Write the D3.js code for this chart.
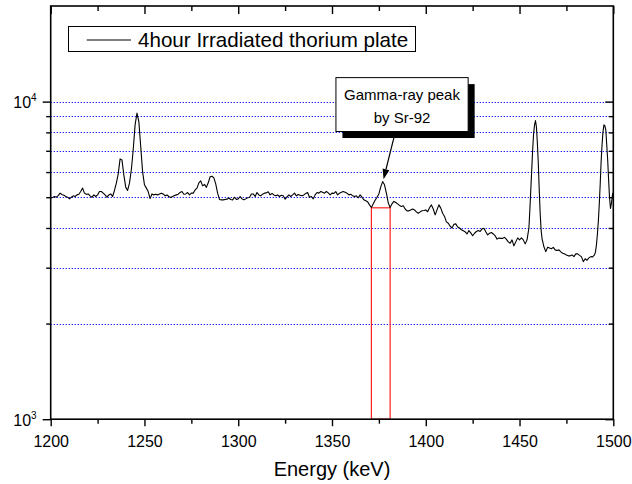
<!DOCTYPE html>
<html>
<head>
<meta charset="utf-8">
<script src="https://cdn.jsdelivr.net/npm/d3@7/dist/d3.min.js"></script>
<style>
    body { margin: 0; background: #fff; }
    svg { display: block; font-family: "Liberation Sans", Arial, sans-serif; }
</style>
</head>
<body>
<svg id="chart" width="632" height="484"></svg>
<script>
(function() {
    'use strict';

    /******************************************************************
        data
     ******************************************************************/
    var xMajor = [1200, 1250, 1300, 1350, 1400, 1450, 1500];
    var xMinor = [1225, 1275, 1325, 1375, 1425, 1475];
    var yMajor = [1000, 10000];
    var yMinor = [2000, 3000, 4000, 5000, 6000, 7000, 8000, 9000];
    var gridLevels = [2000, 3000, 4000, 5000, 6000, 7000, 8000, 9000, 10000];

    var legendLabel = '4hour Irradiated thorium plate';
    var axisTitle = 'Energy (keV)';
    var noteLines = ['Gamma-ray peak', 'by Sr-92'];
    var noteBox = [1352.1, 1422.6, 11900, 8050];   // energy from/to, counts top/bottom
    var noteTip = [1377.5, 5700];                  // energy, counts
    var peakWindow = [1371, 1381, 4630];           // energy from/to, counts

    // [energy keV, counts]
    var spectrum = [
        [1200,4970],[1201,4990],[1202,5025],[1203,5000],[1204,5060],[1205,5150],[1206,5100],[1207,5075],
        [1208,5025],[1209,5000],[1210,4940],[1211,5000],[1212,5050],[1213,5025],[1214,5085],[1215,5110],
        [1216,5210],[1217,5340],[1218,5150],[1219,5110],[1220,5120],[1221,5050],[1222,5000],[1223,5085],
        [1224,5025],[1225,5085],[1226,5210],[1227,5210],[1228,5150],[1229,5085],[1230,5000],[1231,5085],
        [1232,5120],[1233,5025],[1234,5250],[1235,5535],[1236,5920],[1237,6600],[1238,6550],[1239,5880],
        [1240,5380],[1241,5250],[1242,5535],[1243,6100],[1244,7050],[1245,8450],[1246,9200],[1247,8650],
        [1248,7220],[1249,6020],[1250,5470],[1251,5340],[1252,5210],[1253,4950],[1254,5120],[1255,5085],
        [1256,5110],[1257,5085],[1258,5120],[1259,5150],[1260,5120],[1261,5050],[1262,5085],[1263,5025],
        [1264,4990],[1265,5025],[1266,5060],[1267,5085],[1268,5110],[1269,5175],[1270,5210],[1271,5110],
        [1272,5120],[1273,5175],[1274,5085],[1275,5150],[1276,5150],[1277,5270],[1278,5340],[1279,5550],
        [1280,5630],[1281,5430],[1282,5490],[1283,5370],[1284,5550],[1285,5800],[1286,5820],[1287,5750],
        [1288,5510],[1289,5150],[1290,4920],[1291,4905],[1292,4905],[1293,4920],[1294,4930],[1295,4970],
        [1296,4920],[1297,4905],[1298,5000],[1299,4920],[1300,4940],[1301,5025],[1302,4940],[1303,4905],
        [1304,4940],[1305,4980],[1306,4990],[1307,5120],[1308,5120],[1309,5025],[1310,5175],[1311,5085],
        [1312,5050],[1313,5110],[1314,5150],[1315,5160],[1316,5200],[1317,5085],[1318,5140],[1319,5085],
        [1320,5050],[1321,5085],[1322,5025],[1323,5070],[1324,5050],[1325,4930],[1326,5010],[1327,5085],
        [1328,5025],[1329,5085],[1330,5150],[1331,5050],[1332,5100],[1333,5070],[1334,5050],[1335,5085],
        [1336,5140],[1337,5175],[1338,5000],[1339,5025],[1340,4940],[1341,5085],[1342,5175],[1343,5150],
        [1344,5210],[1345,5180],[1346,5150],[1347,5210],[1348,5160],[1349,5085],[1350,5150],[1351,5140],
        [1352,5210],[1353,5085],[1354,5150],[1355,5180],[1356,5210],[1357,5180],[1358,5150],[1359,5085],
        [1360,5110],[1361,5050],[1362,5025],[1363,5050],[1364,4980],[1365,5085],[1366,5000],[1367,4905],
        [1368,4870],[1369,4835],[1370,4730],[1371,4640],[1372,4765],[1373,4890],[1374,5000],[1375,5120],
        [1376,5390],[1377,5600],[1378,5470],[1379,5150],[1380,4800],[1381,4640],[1382,4765],[1383,4850],
        [1384,4810],[1385,4765],[1386,4710],[1387,4675],[1388,4700],[1389,4590],[1390,4530],[1391,4530],
        [1392,4560],[1393,4590],[1394,4560],[1395,4495],[1396,4450],[1397,4495],[1398,4530],[1399,4540],
        [1400,4560],[1401,4500],[1402,4630],[1403,4730],[1404,4590],[1405,4400],[1406,4560],[1407,4730],
        [1408,4620],[1409,4450],[1410,4350],[1411,4180],[1412,4140],[1413,4050],[1414,4000],[1415,4110],
        [1416,4120],[1417,4030],[1418,4000],[1419,3950],[1420,3920],[1421,3890],[1422,3830],[1423,3925],
        [1424,3860],[1425,3780],[1426,3850],[1427,3900],[1428,3925],[1429,3900],[1430,3975],[1431,3990],
        [1432,3890],[1433,3805],[1434,3850],[1435,3870],[1436,3830],[1437,3780],[1438,3690],[1439,3720],
        [1440,3710],[1441,3710],[1442,3740],[1443,3685],[1444,3617],[1445,3580],[1446,3670],[1447,3514],
        [1448,3617],[1449,3723],[1450,3670],[1451,3723],[1452,3670],[1453,3565],[1454,3670],[1455,4000],
        [1455.5,4560],[1456,5274],[1456.5,6097],[1457,7050],[1457.5,7920],[1458,8450],[1458.5,8710],
        [1459,8330],[1459.5,7420],[1460,6410],[1460.5,5274],[1461,4460],[1461.5,3946],[1462,3700],
        [1463,3490],[1464,3370],[1465,3480],[1466,3460],[1467,3440],[1468,3475],[1469,3413],[1470,3395],
        [1471,3413],[1472,3364],[1473,3330],[1474,3316],[1475,3290],[1476,3268],[1477,3268],[1478,3290],
        [1479,3250],[1480,3316],[1481,3316],[1482,3280],[1483,3250],[1484,3135],[1485,3200],[1486,3165],
        [1487,3221],[1488,3250],[1489,3245],[1490,3290],[1490.5,3364],[1491,3540],[1491.5,3810],
        [1492,4180],[1492.5,4730],[1493,5470],[1493.5,6460],[1494,7310],[1494.5,8030],[1495,8450],
        [1495.5,8390],[1496,8150],[1496.5,7310],[1497,6556],[1497.5,5670],[1498,4980],[1498.5,4610],
        [1499,4780],[1499.7,5160]
    ];

    /******************************************************************
        scales
     ******************************************************************/
    var L = 50.7, R = 613.3, T = 6, B = 419.2;

    var x = d3.scaleLinear().domain([1200, 1500]).range([L, R]);
    var y = d3.scaleLog().domain([1000, 20000]).range([B, T]);

    var svg = d3.select('#chart');

    // dotted grid
    svg.append('g')
        .selectAll('line')
        .data(gridLevels)
        .enter().append('line')
            .attr('x1', L).attr('x2', R)
            .attr('y1', function(d) { return Math.round(y(d)) + 0.5; })
            .attr('y2', function(d) { return Math.round(y(d)) + 0.5; })
            .style('stroke', '#0000ff')
            .style('stroke-width', 1)
            .style('stroke-dasharray', '1.2,1.8');

    // highlighted window under the Sr-92 peak
    svg.append('rect')
        .attr('x', x(peakWindow[0]))
        .attr('y', y(peakWindow[2]))
        .attr('width', x(peakWindow[1]) - x(peakWindow[0]))
        .attr('height', B - y(peakWindow[2]))
        .style('fill', 'none')
        .style('stroke', '#ff2020')
        .style('stroke-width', 1.2);

    // spectrum
    svg.append('path')
        .datum(spectrum)
        .attr('d', d3.line()
            .x(function(d) { return x(d[0]); })
            .y(function(d) { return y(d[1]); }))
        .style('fill', 'none')
        .style('stroke', '#000')
        .style('stroke-width', 1.1)
        .style('stroke-linejoin', 'round');

    /******************************************************************
        axes
     ******************************************************************/
    function tidy(g) {
        g.select('.domain').remove();
        g.selectAll('line').style('stroke', '#000').style('stroke-width', 1.4);
    }

    svg.append('g')
        .attr('transform', 'translate(0,' + B + ')')
        .call(d3.axisBottom(x).tickValues(xMajor).tickSize(7).tickPadding(9)
            .tickFormat(d3.format('d')))
        .call(tidy)
        .selectAll('text')
            .style('font-size', '16px')
            .style('font-family', '"Liberation Sans", Arial, sans-serif')
            .style('fill', '#000');

    svg.append('g')
        .attr('transform', 'translate(0,' + B + ')')
        .call(d3.axisBottom(x).tickValues(xMinor).tickSize(4.5).tickFormat(''))
        .call(tidy);

    svg.append('g')
        .attr('transform', 'translate(0,' + T + ')')
        .call(d3.axisTop(x).tickValues(xMajor).tickSize(-8).tickFormat(''))
        .call(tidy);

    svg.append('g')
        .attr('transform', 'translate(0,' + T + ')')
        .call(d3.axisTop(x).tickValues(xMinor).tickSize(-5).tickFormat(''))
        .call(tidy);

    svg.append('g')
        .attr('transform', 'translate(' + L + ',0)')
        .call(d3.axisLeft(y).tickValues(yMajor).tickSize(8).tickFormat(''))
        .call(tidy);

    svg.append('g')
        .attr('transform', 'translate(' + L + ',0)')
        .call(d3.axisLeft(y).tickValues(yMinor).tickSize(4.5).tickFormat(''))
        .call(tidy);

    svg.append('g')
        .attr('transform', 'translate(' + R + ',0)')
        .call(d3.axisRight(y).tickValues(yMajor).tickSize(-8).tickFormat(''))
        .call(tidy);

    svg.append('g')
        .attr('transform', 'translate(' + R + ',0)')
        .call(d3.axisRight(y).tickValues(yMinor).tickSize(-4.5).tickFormat(''))
        .call(tidy);

    // 10^n labels
    var yLab = svg.append('g')
        .selectAll('text')
        .data(yMajor)
        .enter().append('text')
            .attr('x', 13.3)
            .attr('y', function(d) { return y(d) + 6.5; })
            .style('font-size', '16px');
    yLab.append('tspan').text('10');
    yLab.append('tspan')
        .attr('dy', -7)
        .style('font-size', '10px')
        .text(function(d) { return Math.round(Math.log10(d)); });

    // frame
    svg.append('rect')
        .attr('x', L).attr('y', T)
        .attr('width', R - L).attr('height', B - T)
        .style('fill', 'none')
        .style('stroke', '#000')
        .style('stroke-width', 1.6);

    svg.append('text')
        .attr('x', (L + R) / 2)
        .attr('y', 476)
        .attr('text-anchor', 'middle')
        .style('font-size', '20px')
        .text(axisTitle);

    /******************************************************************
        legend
     ******************************************************************/
    var lg = svg.append('g');
    lg.append('rect')
        .attr('x', 68.5).attr('y', 26.5)
        .attr('width', 347).attr('height', 25)
        .style('fill', '#fff')
        .style('stroke', '#000')
        .style('stroke-width', 1);
    lg.append('line')
        .attr('x1', 86.7).attr('x2', 131)
        .attr('y1', 40).attr('y2', 40)
        .style('stroke', '#000')
        .style('stroke-width', 1.1);
    lg.append('text')
        .attr('x', 138)
        .attr('y', 46.7)
        .style('font-size', '20.6px')
        .text(legendLabel);

    /******************************************************************
        annotation
     ******************************************************************/
    var bx0 = x(noteBox[0]), bx1 = x(noteBox[1]);
    var by0 = y(noteBox[2]), by1 = y(noteBox[3]);
    var tipX = x(noteTip[0]), tipY = y(noteTip[1]);
    var fromX = bx0 + (bx1 - bx0) * 0.45, fromY = by1;

    var ang = Math.atan2(tipY - fromY, tipX - fromX);
    var headLen = 10, headW = 3.5;
    var baseX = tipX - headLen * Math.cos(ang), baseY = tipY - headLen * Math.sin(ang);

    svg.append('line')
        .attr('x1', fromX).attr('y1', fromY)
        .attr('x2', baseX).attr('y2', baseY)
        .style('stroke', '#000')
        .style('stroke-width', 1.2);
    svg.append('path')
        .attr('d', 'M' + tipX + ',' + tipY +
            'L' + (baseX + headW * Math.sin(ang)) + ',' + (baseY - headW * Math.cos(ang)) +
            'L' + (baseX - headW * Math.sin(ang)) + ',' + (baseY + headW * Math.cos(ang)) + 'Z')
        .style('fill', '#000');

    svg.append('rect')
        .attr('x', bx0 + 6.5).attr('y', by0 + 6.5)
        .attr('width', bx1 - bx0).attr('height', by1 - by0)
        .style('fill', '#000');
    svg.append('rect')
        .attr('x', bx0).attr('y', by0)
        .attr('width', bx1 - bx0).attr('height', by1 - by0)
        .style('fill', '#fff')
        .style('stroke', '#000')
        .style('stroke-width', 1);

    svg.append('g')
        .selectAll('text')
        .data(noteLines)
        .enter().append('text')
            .attr('x', (bx0 + bx1) / 2)
            .attr('y', function(d, i) { return by0 + 22.5 + i * 22.5; })
            .attr('text-anchor', 'middle')
            .style('font-size', '15px')
            .text(function(d) { return d; });
})();
</script>
</body>
</html>
